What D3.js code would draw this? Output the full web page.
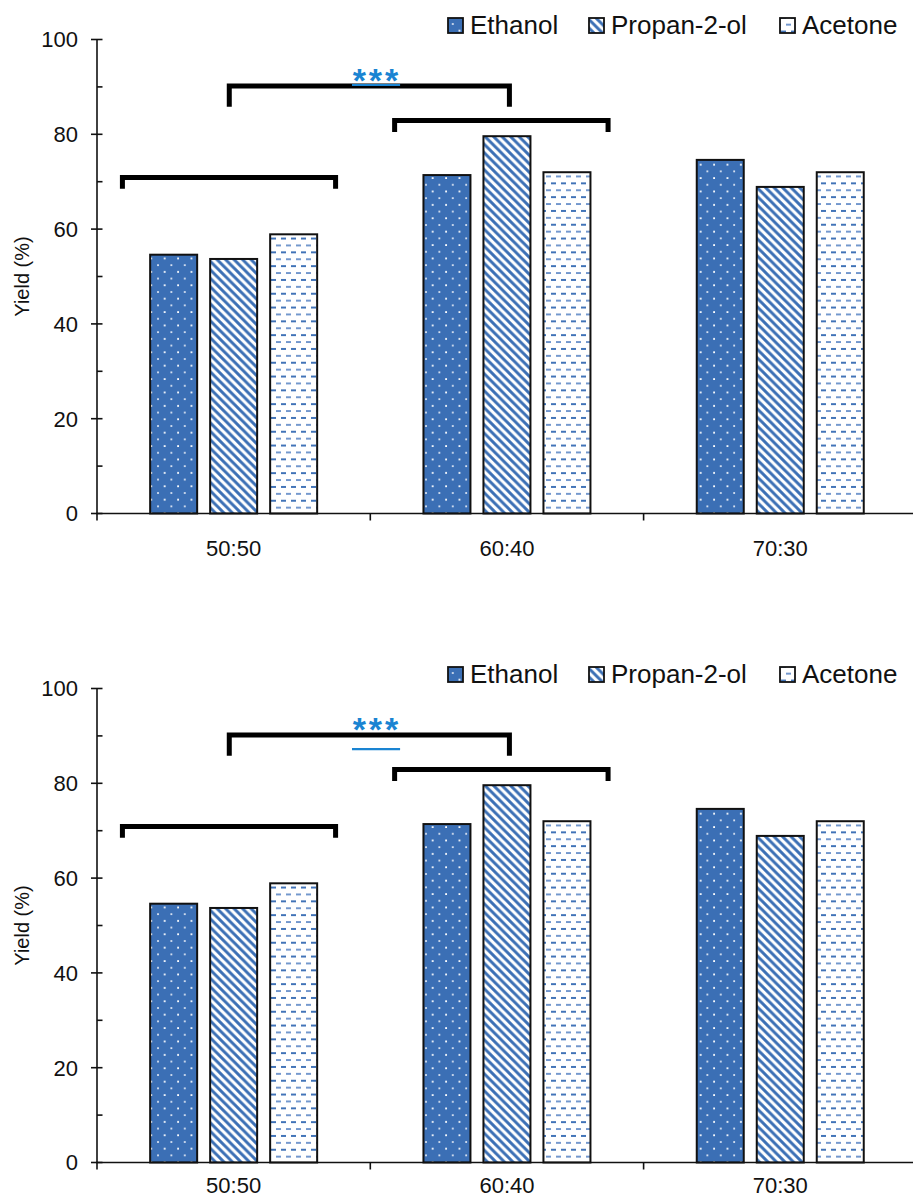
<!DOCTYPE html>
<html>
<head>
<meta charset="utf-8">
<script src="https://cdn.jsdelivr.net/npm/d3@7"></script>
<style>
  html, body { margin: 0; padding: 0; background: #fff; }
  svg { display: block; }
  text { font-family: "Liberation Sans", Arial, sans-serif; }
</style>
</head>
<body>
<div id="chart"></div>
<script>
// ---------- data ----------
const categories = ["50:50", "60:40", "70:30"];
const series = ["Ethanol", "Propan-2-ol", "Acetone"];
const ethanol = [54.6, 71.4, 74.6];
const propan2ol = [53.7, 79.6, 68.9];
const acetone = [58.9, 72.0, 72.0];
const yTicks = [0, 20, 40, 60, 80, 100];
const yMinorTicks = [10, 30, 50, 70, 90];
// significance brackets: positions in category units (0 = first category centre)
const bracketFrom = [-0.407, -0.016, 0.589];
const bracketTo   = [0.373, 1.009, 1.370];
const bracketY    = [70.9, 90.2, 82.9];
const bracketEnd  = [68.5, 85.8, 80.5];
const starsText = "***";
const starsPos = 0.519;
const starsY = 89.0;
const underlineFrom = 0.433;
const underlineTo = 0.609;
const underlineY = [90.4, 87.2]; // top panel, bottom panel

const valuesBySeries = [ethanol, propan2ol, acetone];

// ---------- layout ----------
const W = 913, H = 1199;
const svg = d3.select("#chart").append("svg").attr("width", W).attr("height", H);

const blue = "#3b6fb5";
const starBlue = "#1a84d2";

// patterns
const defs = svg.append("defs");
const pDots = defs.append("pattern").attr("id", "pat-eth").attr("patternUnits", "userSpaceOnUse")
  .attr("width", 13.4).attr("height", 13.4);
pDots.append("rect").attr("width", 13.4).attr("height", 13.4).attr("fill", blue);
pDots.append("rect").attr("x", 3).attr("y", 3).attr("width", 1.8).attr("height", 1.8).attr("fill", "#fff");
pDots.append("rect").attr("x", 9.7).attr("y", 9.7).attr("width", 1.8).attr("height", 1.8).attr("fill", "#dfe7f3");

const pDiag = defs.append("pattern").attr("id", "pat-prop").attr("patternUnits", "userSpaceOnUse")
  .attr("width", 8.5).attr("height", 8.5);
pDiag.append("rect").attr("width", 8.5).attr("height", 8.5).attr("fill", "#fff");
pDiag.append("path").attr("d", "M-2,-2 L10.5,10.5 M-10.5,-2 L2,10.5 M6.5,-2 L19,10.5")
  .attr("stroke", blue).attr("stroke-width", 2.9);

const pDash = defs.append("pattern").attr("id", "pat-ace").attr("patternUnits", "userSpaceOnUse")
  .attr("width", 10).attr("height", 13.8);
pDash.append("rect").attr("width", 10).attr("height", 13.8).attr("fill", "#fff");
pDash.append("rect").attr("x", 1).attr("y", 3).attr("width", 5).attr("height", 1.9).attr("fill", blue);
pDash.append("rect").attr("x", 6).attr("y", 9.9).attr("width", 5).attr("height", 1.9).attr("fill", "#6f95cc");
pDash.append("rect").attr("x", -4).attr("y", 9.9).attr("width", 5).attr("height", 1.9).attr("fill", "#6f95cc");

const fills = ["url(#pat-eth)", "url(#pat-prop)", "url(#pat-ace)"];

function drawPanel(offY, panelIndex, labelDy) {
  const g = svg.append("g").attr("transform", `translate(0,${offY})`);
  const y = d3.scaleLinear().domain([0, 100]).range([513.5, 39.5]);
  const x = d3.scaleBand().domain(categories).range([97, 97 + 3 * 273.3]).padding(0);
  const xi = d3.scaleBand().domain(series).range([-83.5, 83.5]).paddingInner(13 / 60).paddingOuter(0);
  const pos = d3.scaleLinear().domain([0, 1]).range([x(categories[0]) + x.bandwidth() / 2, x(categories[1]) + x.bandwidth() / 2]);

  // bars
  series.forEach((s, si) => {
    g.append("g").selectAll("rect").data(valuesBySeries[si]).join("rect")
      .attr("x", (d, i) => x(categories[i]) + x.bandwidth() / 2 + xi(s))
      .attr("y", d => y(d))
      .attr("width", xi.bandwidth())
      .attr("height", d => y(0) - y(d))
      .attr("fill", fills[si])
      .attr("stroke", "#111").attr("stroke-width", 2);
  });

  // y axis
  const yAxis = g.append("g").attr("transform", "translate(97,0)");
  yAxis.append("line").attr("y1", y(0)).attr("y2", y(100)).attr("stroke", "#111").attr("stroke-width", 1.6);
  yAxis.selectAll(".maj").data(yTicks).join("line").attr("class", "maj")
    .attr("x1", -6).attr("x2", 5.5).attr("y1", d => y(d)).attr("y2", d => y(d))
    .attr("stroke", "#111").attr("stroke-width", 1.6);
  yAxis.selectAll(".min").data(yMinorTicks).join("line").attr("class", "min")
    .attr("x1", 0).attr("x2", 5.5).attr("y1", d => y(d)).attr("y2", d => y(d))
    .attr("stroke", "#111").attr("stroke-width", 1.6);
  yAxis.selectAll("text").data(yTicks).join("text")
    .attr("x", -19).attr("y", d => y(d)).attr("dy", "0.36em")
    .attr("text-anchor", "end").attr("font-size", 22).attr("fill", "#111")
    .text(d => d);

  // x axis
  const xAxis = g.append("g").attr("transform", `translate(0,${y(0)})`);
  xAxis.append("line").attr("x1", 96).attr("x2", W).attr("stroke", "#111").attr("stroke-width", 1.6);
  xAxis.selectAll(".tk").data(categories).join("line").attr("class", "tk")
    .attr("x1", d => x(d)).attr("x2", d => x(d)).attr("y1", 0).attr("y2", 7)
    .attr("stroke", "#111").attr("stroke-width", 1.6);
  xAxis.selectAll("text").data(categories).join("text")
    .attr("x", d => x(d) + x.bandwidth() / 2).attr("y", labelDy)
    .attr("text-anchor", "middle").attr("font-size", 22).attr("fill", "#111")
    .text(d => d);

  // y label
  g.append("text").attr("transform", `translate(29,${(y(0) + y(100)) / 2}) rotate(-90)`)
    .attr("text-anchor", "middle").attr("font-size", 20).attr("fill", "#111")
    .text("Yield (%)");

  // brackets
  g.append("g").selectAll("path").data(bracketFrom).join("path")
    .attr("d", (d, i) => `M${pos(bracketFrom[i])},${y(bracketEnd[i])} L${pos(bracketFrom[i])},${y(bracketY[i])} L${pos(bracketTo[i])},${y(bracketY[i])} L${pos(bracketTo[i])},${y(bracketEnd[i])}`)
    .attr("fill", "none").attr("stroke", "#000").attr("stroke-width", 5).attr("stroke-linejoin", "miter");

  // stars
  g.append("line")
    .attr("x1", pos(underlineFrom)).attr("x2", pos(underlineTo))
    .attr("y1", y(underlineY[panelIndex])).attr("y2", y(underlineY[panelIndex]))
    .attr("stroke", starBlue).attr("stroke-width", 2.2);
  g.append("text").attr("x", pos(starsPos)).attr("y", y(starsY)).attr("dx", 1.5)
    .attr("text-anchor", "middle").attr("font-size", 34).attr("font-weight", "bold")
    .attr("letter-spacing", 3).attr("fill", starBlue)
    .text(starsText);

  // legend
  const legX = [448, 589, 780];
  const leg = g.append("g");
  series.forEach((s, si) => {
    leg.append("rect").attr("x", legX[si]).attr("y", 18).attr("width", 15).attr("height", 15)
      .attr("fill", fills[si]).attr("stroke", "#111").attr("stroke-width", 1.8);
    leg.append("text").attr("x", legX[si] + 22).attr("y", 34).attr("font-size", 26).attr("fill", "#111")
      .text(s);
  });
}

drawPanel(0, 0, 42);
drawPanel(649, 1, 30);
</script>
</body>
</html>
